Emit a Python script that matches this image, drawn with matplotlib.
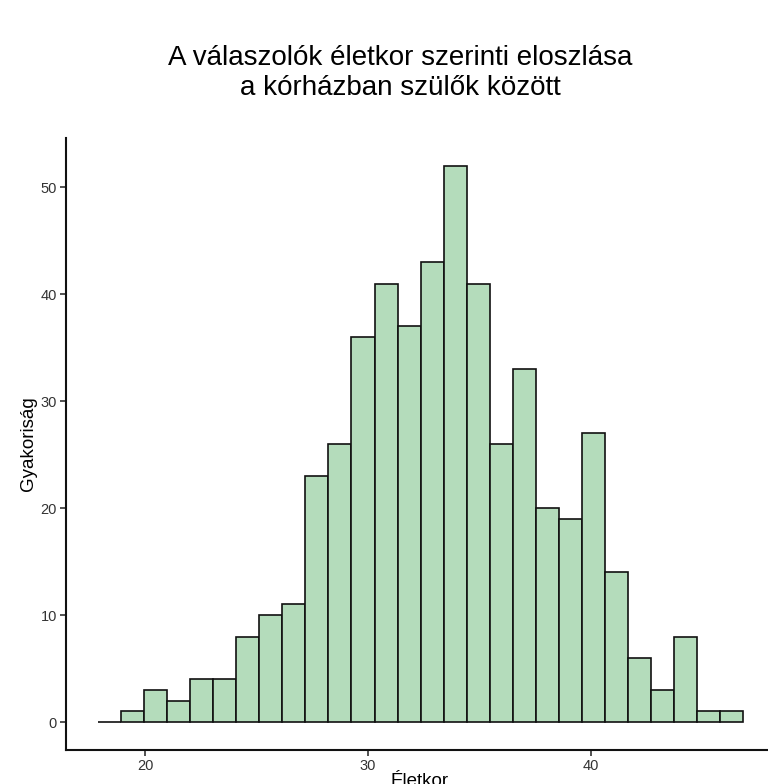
import numpy as np
import matplotlib
matplotlib.use("Agg")
import matplotlib.pyplot as plt

plt.rcParams['font.family'] = ['Liberation Sans', 'DejaVu Sans']

# histogram counts (one per bin, left to right)
counts = [0, 1, 3, 2, 4, 4, 8, 10, 11, 23, 26, 36, 41, 37, 43, 52,
          41, 26, 33, 20, 19, 27, 14, 6, 3, 8, 1, 1]
bin_start = 17.89
bin_width = 1.0334
x_ticks = [20, 30, 40]
y_ticks = [0, 10, 20, 30, 40, 50]

title = "A válaszolók életkor szerinti eloszlása\na kórházban szülők között"
x_label = "Életkor"
y_label = "Gyakoriság"

W, H = 768, 784
fig = plt.figure(figsize=(W / 100, H / 100), dpi=100)
ax = fig.add_axes([66 / W, 1 - 750 / H, (774 - 66) / W, (750 - 138) / H])

lefts = bin_start + bin_width * np.arange(len(counts))
ax.bar(lefts, counts, width=bin_width, align="edge",
       color="#b4dcbb", edgecolor="#111111", linewidth=1.2)

ax.set_xlim(16.46, 48.2)
ax.set_ylim(-2.6, 54.6)
ax.set_xticks(x_ticks)
ax.set_yticks(y_ticks)
ax.tick_params(axis="both", length=4, width=1.1, color="#222222",
               labelsize=10.5, labelcolor="#333333", pad=2.5)

for s in ["top", "right"]:
    ax.spines[s].set_visible(False)
for s in ["left", "bottom"]:
    ax.spines[s].set_linewidth(1.5)
    ax.spines[s].set_color("#111111")

fig.text(400 / W, 1 - 73 / H, title, ha="center", va="center",
         fontsize=20, linespacing=1.2)
fig.text(28 / W, 1 - 444 / H, y_label, rotation=90, ha="center",
         va="center", fontsize=13.5)
# axis title sits partly below the image edge, as in the original
fig.text(420 / W, 1 - 773 / H, x_label, ha="center", va="top", fontsize=13.5)

fig.savefig("out.png", dpi=100)
